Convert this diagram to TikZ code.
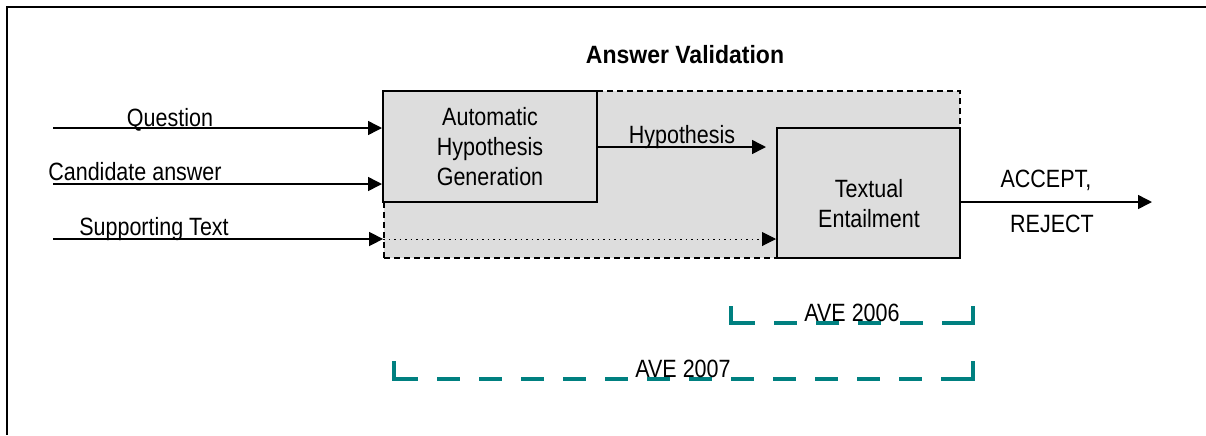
\documentclass[tikz,border=0pt]{standalone}
\usepackage{fontspec}
\setmainfont{Liberation Sans}[FakeStretch=0.86]
\newfontfamily\titlefont{Liberation Sans}[FakeStretch=0.92]
\usetikzlibrary{arrows.meta}
\definecolor{avegray}{HTML}{DDDDDD}
\definecolor{aveteal}{HTML}{008080}
\tikzset{
  flow/.style={-{Triangle[length=7pt,width=7pt]},line width=0.75pt},
  region/.style={draw,dashed,dash pattern=on 3pt off 2pt,line width=0.9pt,
    fill=avegray,minimum width=288pt,minimum height=83.5pt,inner sep=0pt},
  stage/.style={draw,line width=1pt,fill=avegray,align=center,inner sep=0pt},
  lbl/.style={anchor=base,inner sep=0pt},
  bracket/.style={draw=aveteal,line width=1.8pt}
}
\begin{document}
\begin{tikzpicture}[x=0.5pt,y=-0.5pt,font=\fontsize{12.5}{15}\selectfont]
  \useasboundingbox (0,0) rectangle (1206,435);
  \draw[line width=1.3pt] (1206,7) -| (7,435);

  \node[lbl] (title) at (685,63) {\titlefont\bfseries Answer Validation};

  % validation area and its two stages
  \node[region] (av) at (672,174.5) {};
  \node[stage,minimum width=107pt,minimum height=55.5pt] (ahg) at (490,146.5)
    {Automatic\\Hypothesis\\Generation};
  \node[stage,minimum width=91.5pt,minimum height=65pt] (te) at (868.5,193) {};
  \node[align=center,inner sep=0pt] (tetext) at (869,204) {Textual\\Entailment};

  % inputs
  \coordinate (qin) at (53,128);
  \coordinate (cin) at (53,184);
  \coordinate (sin) at (53,239);
  \draw[flow] (qin) -- (qin -| ahg.west);
  \draw[flow] (cin) -- (cin -| ahg.west);
  \draw[flow] (sin) -- (sin -| av.west);
  \draw[flow,dotted,line width=0.5pt] (sin -| av.west) -- (sin -| te.west);
  \node[lbl] (qlbl) at (170,126) {Question};
  \node[lbl] (clbl) at (135,180) {Candidate answer};
  \node[lbl] (slbl) at (154,235) {Supporting Text};

  \draw[flow,shorten >=5pt] (ahg.east |- 0,147) -- (te.west |- 0,147);
  \node[lbl] (hlbl) at (682,143) {Hypothesis};

  % output
  \coordinate (out) at (1152,202);
  \draw[flow] (te.east |- out) -- (out);
  \node[lbl] (acc) at (1046,187) {ACCEPT,};
  \node[lbl] (rej) at (1052,232) {REJECT};

  % AVE 2006
  \draw[bracket] (731,306) |- (755,323);
  \draw[bracket,dash pattern=on 11.5pt off 9.5pt,dash phase=-9.5pt] (755,323) -- (949,323);
  \draw[bracket] (949,323) -| (973,306);
  \node[lbl] (ave06) at (852,321) {AVE 2006};

  % AVE 2007
  \draw[bracket] (394,361) |- (418,379);
  \draw[bracket,dash pattern=on 11.5pt off 9.5pt,dash phase=-9.5pt] (418,379) -- (949,379);
  \draw[bracket] (949,379) -| (973,361);
  \node[lbl] (ave07) at (683,377) {AVE 2007};
\end{tikzpicture}
\end{document}
